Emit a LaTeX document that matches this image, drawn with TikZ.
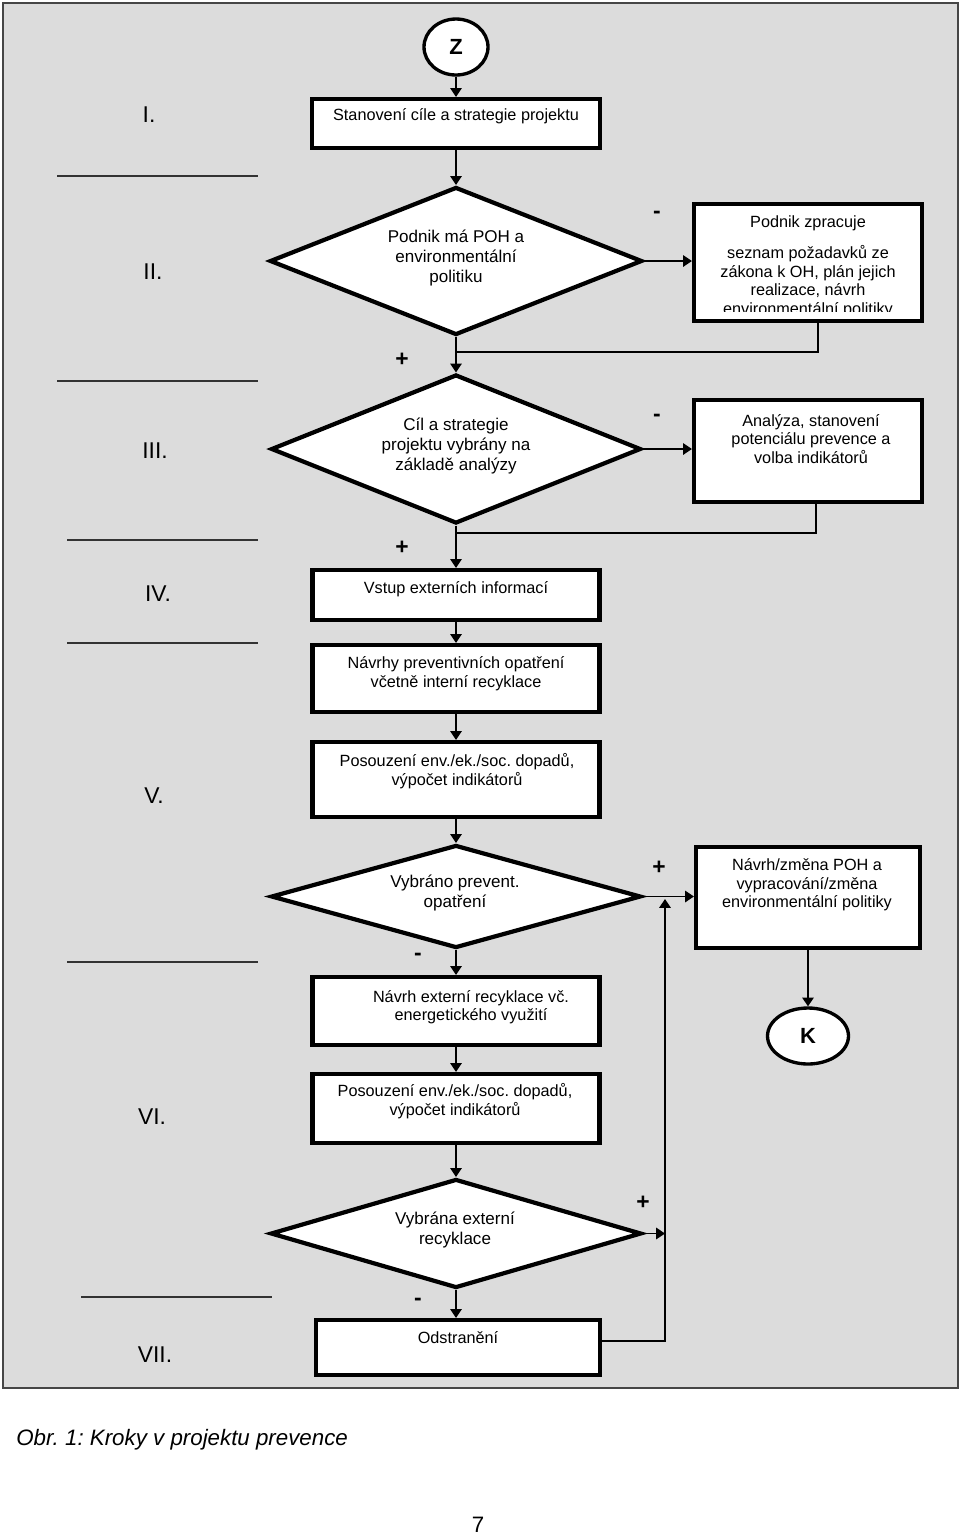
\documentclass[tikz,border=0pt]{standalone}
\usepackage{fontspec}
\setmainfont{Liberation Sans}
\usepackage{xcolor}
\usetikzlibrary{shapes.geometric, arrows.meta}
\definecolor{ramec}{RGB}{220,220,220}
\definecolor{ramecokraj}{RGB}{70,70,70}
\frenchspacing

\begin{document}
\begin{tikzpicture}[x=0.02cm, y=-0.02cm,
		>={Triangle[length=5pt, width=6.5pt]},
		blok/.style={draw, line width=2.4pt, fill=white, inner sep=0pt},
		kosoctverec/.style={draw, diamond, line width=2.4pt, fill=white, inner sep=0pt},
		mez/.style={draw, ellipse, line width=1.9pt, fill=white, inner sep=0pt, font=\fontsize{12.5}{15}\selectfont\bfseries},
		popis/.style={align=center, inner sep=0pt, font=\fontsize{9.25}{10.6}\selectfont},
		otazka/.style={align=center, inner sep=0pt, font=\fontsize{9.7}{11.3}\selectfont},
		krok/.style={inner sep=0pt, font=\fontsize{13}{15}\selectfont},
		znak/.style={inner sep=0pt, font=\fontsize{13}{15}\selectfont\bfseries},
		spoj/.style={line width=0.9pt},
		mezera/.style={line width=0.9pt, black!80}]
			\useasboundingbox (0,0) rectangle (960,1536);
			% sede pozadi
			\draw[line width=1.2pt, draw=ramecokraj, fill=ramec] (3,3) rectangle (958,1388);

			% kroky I.--VII.
			\path
			node[krok] (r1) at (149,115) {I.}
			node[krok] (r2) at (153,272) {II.}
			node[krok] (r3) at (155,451) {III.}
			node[krok] (r4) at (158,594) {IV.}
			node[krok] (r5) at (154,796) {V.}
			node[krok] (r6) at (152,1117) {VI.}
			node[krok] (r7) at (155,1355) {VII.};
			\draw[mezera] (57,176) -- (258,176);
			\draw[mezera] (57,381) -- (258,381);
			\draw[mezera] (67,540) -- (258,540);
			\draw[mezera] (67,643) -- (258,643);
			\draw[mezera] (67,962) -- (258,962);
			\draw[mezera] (81,1297) -- (272,1297);

			% bloky
			\path
			node[mez, minimum width=1.28cm, minimum height=1.12cm] (z) at (456,47) {Z}
			node[blok, minimum width=5.76cm, minimum height=0.98cm] (cil) at (456,123.5) {}
			node[kosoctverec, minimum width=7.45cm, minimum height=2.96cm] (pohpol) at (456,261) {}
			node[blok, minimum width=4.56cm, minimum height=2.34cm] (zprac) at (808,262.5) {}
			node[kosoctverec, minimum width=7.4cm, minimum height=2.98cm] (cilvyb) at (456,449) {}
			node[blok, minimum width=4.56cm, minimum height=2.04cm] (analyza) at (808,451) {}
			node[blok, minimum width=5.74cm, minimum height=1.0cm] (vstup) at (456,595) {}
			node[blok, minimum width=5.74cm, minimum height=1.34cm] (navrhy) at (456,678.5) {}
			node[blok, minimum width=5.74cm, minimum height=1.5cm] (posouz1) at (456,779.5) {}
			node[kosoctverec, minimum width=7.4cm, minimum height=2.06cm] (prevent) at (456,896.5) {}
			node[blok, minimum width=4.48cm, minimum height=2.02cm] (zmena) at (808,897.5) {}
			node[mez, minimum width=1.62cm, minimum height=1.12cm] (k) at (808,1036) {K}
			node[blok, minimum width=5.74cm, minimum height=1.36cm] (extrec) at (456,1011) {}
			node[blok, minimum width=5.74cm, minimum height=1.38cm] (posouz2) at (456,1108.5) {}
			node[kosoctverec, minimum width=7.42cm, minimum height=2.18cm] (externi) at (456,1233.5) {}
			node[blok, minimum width=5.68cm, minimum height=1.1cm] (odstr) at (458,1347.5) {};

			% texty v blocich
			\path
			node[popis] (t-cil) at (456,116) {Stanovení cíle a strategie projektu}
			node[otazka] (t-pohpol) at (456,258) {Podnik má POH a\\environmentální\\politiku}
			node[otazka] (t-cilvyb) at (456,446) {Cíl a strategie\\projektu vybrány na\\základě analýzy}
			node[popis] (t-analyza) at (811,439) {Analýza, stanovení\\potenciálu prevence a\\volba indikátorů}
			node[popis] (t-vstup) at (456,589) {Vstup externích informací}
			node[popis] (t-navrhy) at (456,673.5) {Návrhy preventivních opatření\\včetně interní recyklace}
			node[popis] (t-posouz1) at (457,771) {Posouzení env./ek./soc. dopadů,\\výpočet indikátorů}
			node[otazka] (t-prevent) at (455,893) {Vybráno prevent.\\opatření}
			node[popis] (t-zmena) at (807,885) {Návrh/změna POH a\\vypracování/změna\\environmentální politiky}
			node[popis] (t-extrec) at (471,1007) {Návrh externí recyklace vč.\\energetického využití}
			node[popis] (t-posouz2) at (455,1101) {Posouzení env./ek./soc. dopadů,\\výpočet indikátorů}
			node[otazka] (t-externi) at (455,1230) {Vybrána externí\\recyklace}
			node[popis] (t-odstr) at (458,1338) {Odstranění};
			\begin{scope}
				\clip (zprac.north west) rectangle ([yshift=0.24cm]zprac.south east);
				\node[popis] (t-zprac) at (808,267) {Podnik zpracuje\\[0.24cm]seznam požadavků ze\\zákona k OH, plán jejich\\realizace, návrh\\environmentální politiky};
			\end{scope}

			% spojky
			\coordinate (j1) at (456,352);
			\coordinate (j2) at (456,533);
			\coordinate (rv) at (665,899);
			\draw[spoj, ->] (z) -- (cil);
			\draw[spoj, ->] (cil) -- (pohpol);
				\draw[spoj, ->] (pohpol.east) -- (pohpol.east -| zprac.west);
				\draw[spoj] ([xshift=0.2cm]zprac.south) |- (j1);
			\draw[spoj, ->] (pohpol) -- (cilvyb);
				\draw[spoj, ->] (cilvyb.east) -- (cilvyb.east -| analyza.west);
				\draw[spoj] ([xshift=0.16cm]analyza.south) |- (j2);
			\draw[spoj, ->] (cilvyb) -- (vstup);
			\draw[spoj, ->] (vstup) -- (navrhy);
			\draw[spoj, ->] (navrhy) -- (posouz1);
			\draw[spoj, ->] (posouz1) -- (prevent);
				\draw[spoj, ->] (prevent.east) -- (prevent.east -| zmena.west);
				\draw[spoj, ->] (zmena) -- (k);
			\draw[spoj, ->] (prevent) -- (extrec);
			\draw[spoj, ->] (extrec) -- (posouz2);
			\draw[spoj, ->] (posouz2) -- (externi);
				\draw[spoj, ->] (externi.east) -- (externi.east -| rv);
			\draw[spoj, ->] (externi.south) -- (externi.south |- odstr.north);
				\draw[spoj, ->] ([yshift=0.13cm]odstr.east) -| (rv);

			% znamenka
			\path
			node[znak] (m1) at (657,215) {-}
			node[znak] (p1) at (402,360) {+}
			node[znak] (m2) at (657,418) {-}
			node[znak] (p2) at (402,548) {+}
			node[znak] (p3) at (659,868) {+}
			node[znak] (m3) at (418,957) {-}
			node[znak] (p4) at (643,1203) {+}
			node[znak] (m4) at (418,1302) {-};

			% popisek
			\node[anchor=west, inner sep=0pt, font=\fontsize{12.7}{15}\selectfont\itshape] (popisek) at (16,1440) {Obr. 1: Kroky v projektu prevence};
			\node[inner sep=0pt, font=\fontsize{12.7}{15}\selectfont] (strana) at (478,1525) {7};
		\end{tikzpicture}
\end{document}
